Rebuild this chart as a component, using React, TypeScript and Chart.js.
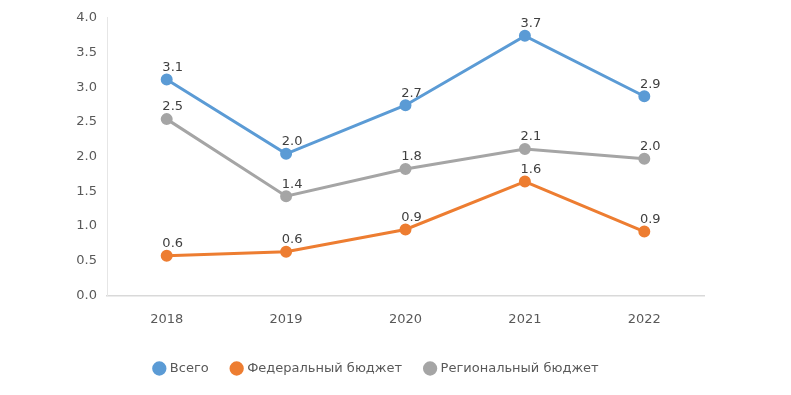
import React, { useEffect, useRef } from "react";
import { Chart, registerables } from "chart.js";
Chart.register(...registerables);

const years = ["2018", "2019", "2020", "2021", "2022"];
const total = [3.11, 2.04, 2.74, 3.74, 2.87];
const federal = [0.57, 0.63, 0.95, 1.64, 0.92];
const regional = [2.54, 1.43, 1.82, 2.11, 1.97];
const seriesNames = ["Всего", "Федеральный бюджет", "Региональный бюджет"];
const colors = ["#5B9BD5", "#ED7D31", "#A5A5A5"];
const yTicks = [0, 0.5, 1, 1.5, 2, 2.5, 3, 3.5, 4];

const FONT = "'DejaVu Sans', 'Noto Sans', sans-serif";

const labelPlugin = {
  id: "valueLabels",
  afterDatasetsDraw(chart: any) {
    const ctx = chart.ctx;
    ctx.save();
    ctx.font = `13px ${FONT}`;
    ctx.fillStyle = "#404040";
    ctx.textAlign = "center";
    ctx.textBaseline = "middle";
    chart.data.datasets.forEach((ds: any, i: number) => {
      const meta = chart.getDatasetMeta(i);
      meta.data.forEach((pt: any, j: number) => {
        const v = ds.data[j];
        ctx.fillText(Number(v).toFixed(1), pt.x + 6, pt.y - 12);
      });
    });
    ctx.restore();
  },
};

export default function App() {
  const ref = useRef<HTMLCanvasElement>(null);
  useEffect(() => {
    document.body.style.margin = "0";
    const data = [total, federal, regional];
    const chart = new Chart(ref.current!, {
      type: "line",
      data: {
        labels: years,
        datasets: seriesNames.map((name, i) => ({
          label: name,
          data: data[i],
          borderColor: colors[i],
          backgroundColor: colors[i],
          borderWidth: 3,
          pointRadius: 4.5,
          pointHoverRadius: 4.5,
          pointBackgroundColor: colors[i],
          pointBorderColor: colors[i],
          tension: 0,
        })),
      },
      options: {
        responsive: false,
        animation: false,
        layout: { padding: { left: 50, right: 87, top: 16, bottom: 10 } },
        plugins: {
          tooltip: { enabled: false },
          legend: {
            position: "bottom",
            labels: {
              usePointStyle: true,
              pointStyle: "circle",
              boxWidth: 8,
              boxHeight: 8,
              padding: 24,
              color: "#595959",
              font: { family: FONT, size: 13 },
            },
          },
        },
        scales: {
          x: {
            offset: true,
            grid: { display: false, drawTicks: false },
            border: { display: true, color: "#d9d9d9", width: 1.5 },
            ticks: { color: "#595959", font: { family: FONT, size: 13 }, padding: 16 },
            afterFit: (axis: any) => {
              axis.height = axis.height - 5;
            },
          },
          y: {
            min: 0,
            max: 4,
            afterBuildTicks: (axis: any) => {
              axis.ticks = yTicks.map((v) => ({ value: v }));
            },
            afterFit: (axis: any) => {
              axis.width = 57;
            },
            grid: { display: false, drawTicks: false },
            border: { display: true, color: "#e6e6e6", width: 1 },
            ticks: {
              color: "#595959",
              font: { family: FONT, size: 13 },
              padding: 10,
              callback: (v: any) => Number(v).toFixed(1),
            },
          },
        },
      },
      plugins: [labelPlugin],
    });
    return () => chart.destroy();
  }, []);
  return (
    <div style={{ width: 791, height: 395, background: "#fff" }}>
      <canvas ref={ref} width={791} height={395} />
    </div>
  );
}
